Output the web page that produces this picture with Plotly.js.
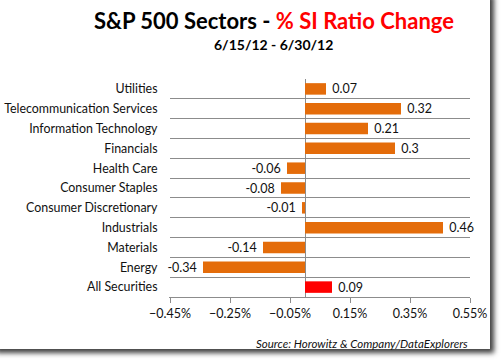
<!DOCTYPE html>
<html>
<head>
<meta charset="utf-8">
<script src="https://cdn.plot.ly/plotly-3.0.1.min.js"></script>
<style>
  html, body { margin: 0; padding: 0; background: #fff; width: 502px; height: 362px; overflow: hidden; }
  #frame { position: absolute; left: -6px; top: -6px; width: 496px; height: 355px; background: #fff;
           box-shadow: 3px 3px 5px 1px rgba(0,0,0,0.75); }
  #chart { position: absolute; left: 0; top: 0; width: 502px; height: 362px; }
</style>
</head>
<body>
<div id="frame"></div>
<div id="chart"></div>
<script>
const categories = ["Utilities", "Telecommunication Services", "Information Technology", "Financials",
  "Health Care", "Consumer Staples", "Consumer Discretionary", "Industrials", "Materials", "Energy", "All Securities"];
const values = [0.07, 0.32, 0.21, 0.3, -0.06, -0.08, -0.01, 0.46, -0.14, -0.34, 0.09];
const xTickStart = -0.45;
const xTickStep = 0.2;
const xRange = [-0.45, 0.55];
const titleMain = "S&P 500 Sectors - ";
const titleRed = "% SI Ratio Change";
const subtitle = "6/15/12 - 6/30/12";
const source = "Source: Horowitz & Company/DataExplorers";

const ORANGE = "#E46C0A", RED = "#FF0000";
const colors = categories.map(c => c === "All Securities" ? RED : ORANGE);
const FONT = "Lato, 'Noto Sans', sans-serif";

const trace = {
  type: "bar",
  orientation: "h",
  y: categories,
  x: values,
  marker: { color: colors },
  text: values.map(v => " " + String(v) + " "),
  textposition: "outside",
  constraintext: "none",
  textfont: { family: FONT, size: 12.5, color: "#111" },
  cliponaxis: false,
  hoverinfo: "none"
};

const layout = {
  width: 502, height: 362,
  paper_bgcolor: "rgba(0,0,0,0)",
  plot_bgcolor: "rgba(0,0,0,0)",
  margin: { l: 170, r: 32, t: 79, b: 65 },
  showlegend: false,
  bargap: 0.42,
  font: { family: FONT, size: 12, color: "#111" },
  xaxis: {
    range: xRange,
    tickmode: "linear", tick0: xTickStart, dtick: xTickStep,
    tickformat: ".2f", ticksuffix: "%",
    showgrid: false,
    zeroline: true, zerolinecolor: "#8c8c8c", zerolinewidth: 1,
    showline: true, linecolor: "#8c8c8c", linewidth: 1,
    ticks: "outside", ticklen: 5, tickcolor: "#8c8c8c",
    tickfont: { family: FONT, size: 12.5, color: "#111" },
    fixedrange: true
  },
  yaxis: {
    type: "category",
    autorange: "reversed",
    tickson: "boundaries",
    showgrid: true, gridcolor: "#8c8c8c", gridwidth: 1,
    showline: true, linecolor: "rgba(0,0,0,0)",
    mirror: false,
    ticks: "",
    ticklabelstandoff: 9,
    tickfont: { family: FONT, size: 12.4, color: "#111" },
    fixedrange: true
  },
  annotations: [
    { xref: "paper", yref: "paper", x: 0.345, y: 1.27, xanchor: "center", yanchor: "middle",
      showarrow: false,
      text: "<b>" + titleMain.replace("&", "&amp;") + "<span style='color:#FF0000'>" + titleRed + "</span></b>",
      font: { family: FONT, size: 22, color: "#000" } },
    { xref: "paper", yref: "paper", x: 0.345, y: 1.156, xanchor: "center", yanchor: "middle",
      showarrow: false,
      text: "<b>" + subtitle + "</b>",
      font: { family: FONT, size: 14, color: "#000" } },
    { xref: "paper", yref: "paper", x: 1, y: 0, yshift: -55, xanchor: "right", yanchor: "bottom",
      showarrow: false,
      text: "<i>" + source.replace("&", "&amp;") + "</i>",
      font: { family: FONT, size: 11.5, color: "#111" } }
  ]
};

Plotly.newPlot("chart", [trace], layout, { displayModeBar: false, staticPlot: true });
</script>
</body>
</html>
